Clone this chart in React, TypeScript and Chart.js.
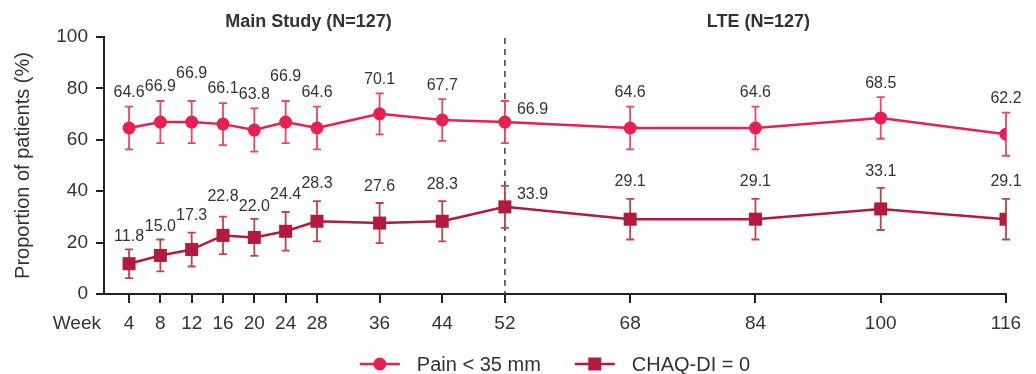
import React, { useEffect, useRef } from "react";
import { Chart, registerables } from "chart.js";

Chart.register(...registerables);

// Visit weeks and response rates (%) with 95% CI bounds
const weeks = [4, 8, 12, 16, 20, 24, 28, 36, 44, 52, 68, 84, 100, 116];
const painValues = [64.6, 66.9, 66.9, 66.1, 63.8, 66.9, 64.6, 70.1, 67.7, 66.9, 64.6, 64.6, 68.5, 62.2];
const painLower = [56.3, 58.7, 58.7, 57.9, 55.4, 58.7, 56.3, 62.1, 59.6, 58.7, 56.3, 56.3, 60.4, 53.8];
const painUpper = [72.9, 75.1, 75.1, 74.3, 72.2, 75.1, 72.9, 78.1, 75.8, 75.1, 72.9, 72.9, 76.6, 70.6];
const chaqValues = [11.8, 15.0, 17.3, 22.8, 22.0, 24.4, 28.3, 27.6, 28.3, 33.9, 29.1, 29.1, 33.1, 29.1];
const chaqLower = [6.2, 8.8, 10.7, 15.5, 14.8, 16.9, 20.5, 19.8, 20.5, 25.7, 21.2, 21.2, 24.9, 21.2];
const chaqUpper = [17.4, 21.2, 23.9, 30.1, 29.2, 31.9, 36.1, 35.4, 36.1, 42.1, 37.0, 37.0, 41.3, 37.0];
const yTicks = [0, 20, 40, 60, 80, 100];
const seriesNames = ["Pain < 35 mm", "CHAQ-DI = 0"];
const periodTitles = ["Main Study (N=127)", "LTE (N=127)"];
const periodBoundary = 52;
const xAxisName = "Week";
const yAxisName = "Proportion of patients (%)";

// Label layout: extra lift (px) for crowded labels; the boundary week's labels sit beside the point
const painLabelLift = [0, 0, 13, 0, 0, 10, 0, 0, 0, 0, 0, 0, 0, 0];
const chaqLabelLift = [-2, -2, 2, 5, -3, 2, 3, 1, 2, 0, 2, 2, 1, 2];

const FONT = "'Liberation Sans', Arial, Helvetica, sans-serif";
const TEXT = "#333333";
const AXIS = "#222222";
const PAIN = "#E8204F";
const PAIN_ERR = "#EC4469";
const CHAQ = "#B21A3E";
const CHAQ_ERR = "#C2414F";

const W = 1036;
const H = 374;

const series = [
  { values: painValues, lower: painLower, upper: painUpper, color: PAIN, err: PAIN_ERR, lift: painLabelLift, style: "circle" },
  { values: chaqValues, lower: chaqLower, upper: chaqUpper, color: CHAQ, err: CHAQ_ERR, lift: chaqLabelLift, style: "rect" },
];

function drawMarker(ctx: CanvasRenderingContext2D, style: string, x: number, y: number, color: string) {
  ctx.fillStyle = color;
  ctx.beginPath();
  if (style === "circle") {
    ctx.arc(x, y, 6.5, 0, Math.PI * 2);
  } else {
    ctx.rect(x - 6.5, y - 6.5, 13, 13);
  }
  ctx.fill();
}

const decorPlugin = {
  id: "decor",
  beforeDatasetsDraw(chart: any) {
    const { ctx, scales, chartArea } = chart;
    const xs = scales.x;
    const ys = scales.y;

    // period divider
    const bx = xs.getPixelForValue(periodBoundary);
    ctx.save();
    ctx.strokeStyle = "#4a4a4a";
    ctx.lineWidth = 1.6;
    ctx.setLineDash([6, 5]);
    ctx.beginPath();
    ctx.moveTo(bx, chartArea.top + 1);
    ctx.lineTo(bx, chartArea.bottom);
    ctx.stroke();
    ctx.restore();

    // confidence interval whiskers
    ctx.save();
    ctx.lineWidth = 1.8;
    series.forEach((s) => {
      ctx.strokeStyle = s.err;
      weeks.forEach((w, i) => {
        const x = xs.getPixelForValue(w);
        const yl = ys.getPixelForValue(s.lower[i]);
        const yu = ys.getPixelForValue(s.upper[i]);
        ctx.beginPath();
        ctx.moveTo(x, yl);
        ctx.lineTo(x, yu);
        ctx.moveTo(x - 4, yl);
        ctx.lineTo(x + 4, yl);
        ctx.moveTo(x - 4, yu);
        ctx.lineTo(x + 4, yu);
        ctx.stroke();
      });
    });
    ctx.restore();
  },
  afterDatasetsDraw(chart: any) {
    const { ctx, scales, chartArea } = chart;
    const xs = scales.x;
    const ys = scales.y;

    // value labels
    ctx.save();
    ctx.fillStyle = TEXT;
    ctx.font = `16px ${FONT}`;
    ctx.textBaseline = "middle";
    series.forEach((s, si) => {
      weeks.forEach((w, i) => {
        const x = xs.getPixelForValue(w);
        const label = s.values[i].toFixed(1);
        if (w === periodBoundary) {
          ctx.textAlign = "left";
          ctx.fillText(label, x + 12, ys.getPixelForValue(s.values[i]) - 12);
        } else {
          ctx.textAlign = "center";
          const base = si === 0 ? 14 : 15;
          ctx.fillText(label, x, ys.getPixelForValue(s.upper[i]) - base - s.lift[i]);
        }
      });
    });
    ctx.restore();

    // period titles
    const bx = xs.getPixelForValue(periodBoundary);
    ctx.save();
    ctx.fillStyle = TEXT;
    ctx.font = `bold 18px ${FONT}`;
    ctx.textAlign = "center";
    ctx.textBaseline = "middle";
    ctx.fillText(periodTitles[0], (chartArea.left + bx) / 2 + 4, 22);
    ctx.fillText(periodTitles[1], (bx + chartArea.right) / 2 + 3, 22);

    // x axis name
    ctx.font = `19px ${FONT}`;
    ctx.textAlign = "right";
    ctx.fillText(xAxisName, 101, 324);
    ctx.restore();

    // legend
    ctx.save();
    ctx.font = `20px ${FONT}`;
    ctx.textBaseline = "middle";
    ctx.textAlign = "left";
    const sampleW = 40;
    const gap = 17;
    const itemGap = 34;
    const widths = seriesNames.map((n) => sampleW + gap + ctx.measureText(n).width);
    const total = widths.reduce((a, b) => a + b, 0) + itemGap;
    let lx = (chartArea.left + chartArea.right) / 2 - total / 2;
    const ly = 364;
    series.forEach((s, si) => {
      ctx.strokeStyle = s.color;
      ctx.lineWidth = 2.5;
      ctx.beginPath();
      ctx.moveTo(lx, ly);
      ctx.lineTo(lx + sampleW, ly);
      ctx.stroke();
      drawMarker(ctx, s.style, lx + sampleW / 2, ly, s.color);
      ctx.fillStyle = TEXT;
      ctx.fillText(seriesNames[si], lx + sampleW + gap, ly + 1);
      lx += widths[si] + itemGap;
    });
    ctx.restore();
  },
};

export default function App() {
  const canvasRef = useRef<HTMLCanvasElement | null>(null);

  useEffect(() => {
    document.body.style.margin = "0";
    const canvas = canvasRef.current;
    if (!canvas) return;

    const chart = new Chart(canvas, {
      type: "line",
      data: {
        datasets: series.map((s, si) => ({
          label: seriesNames[si],
          data: weeks.map((w, i) => ({ x: w, y: s.values[i] })),
          borderColor: s.color,
          backgroundColor: s.color,
          borderWidth: 2.5,
          pointStyle: s.style as any,
          pointRadius: s.style === "circle" ? 6.5 : 9.2,
          pointBorderWidth: 0,
          pointBackgroundColor: s.color,
          tension: 0,
          fill: false,
        })),
      },
      options: {
        animation: false,
        responsive: false,
        devicePixelRatio: 1,
        layout: { padding: { top: 37, right: 30, bottom: 0, left: 0 } },
        plugins: {
          legend: { display: false },
          tooltip: { enabled: false },
          title: { display: false },
        },
        scales: {
          x: {
            type: "linear",
            min: 0.8,
            max: 116,
            afterBuildTicks: (scale: any) => {
              scale.ticks = weeks.map((v) => ({ value: v }));
            },
            afterFit: (scale: any) => {
              scale.height = 80;
            },
            ticks: {
              autoSkip: false,
              maxRotation: 0,
              padding: 9,
              color: TEXT,
              font: { family: FONT, size: 19 },
              callback: (v: any) => String(v),
            },
            grid: {
              drawOnChartArea: false,
              drawTicks: true,
              tickLength: 9,
              color: AXIS,
              lineWidth: 2,
            },
            border: { display: true, color: AXIS, width: 2 },
          },
          y: {
            type: "linear",
            min: 0,
            max: 100,
            afterBuildTicks: (scale: any) => {
              scale.ticks = yTicks.map((v) => ({ value: v }));
            },
            afterFit: (scale: any) => {
              scale.width = 104;
            },
            ticks: {
              padding: 8,
              color: TEXT,
              font: { family: FONT, size: 19 },
            },
            grid: {
              drawOnChartArea: false,
              drawTicks: true,
              tickLength: 8,
              color: AXIS,
              lineWidth: 2,
            },
            border: { display: true, color: AXIS, width: 2 },
            title: {
              display: true,
              text: yAxisName,
              color: TEXT,
              font: { family: FONT, size: 20 },
              padding: { top: 11, bottom: 0 },
            },
          },
        },
      },
      plugins: [decorPlugin],
    });

    return () => chart.destroy();
  }, []);

  return (
    <div style={{ width: W, height: H, background: "#ffffff" }}>
      <canvas ref={canvasRef} width={W} height={H} style={{ display: "block" }} />
    </div>
  );
}
